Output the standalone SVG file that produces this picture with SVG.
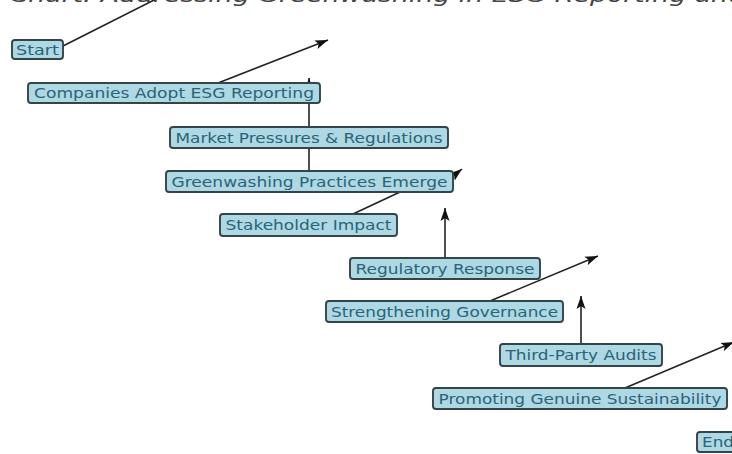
<svg xmlns="http://www.w3.org/2000/svg" width="732" height="454" viewBox="0 0 732 454">
<style>
.box{fill:#aed8e4;stroke:#34444b;stroke-width:1.9}
.lbl{font-family:"DejaVu Sans",sans-serif;font-size:14px;fill:#2a6476;text-anchor:middle}
.edge{stroke:#222;stroke-width:1.6;fill:none}
.title{font-family:"DejaVu Sans",sans-serif;font-size:20px;font-style:italic;fill:#444}
</style>
<defs>
<marker id="ah" markerUnits="userSpaceOnUse" markerWidth="15" markerHeight="10" refX="13" refY="5" orient="auto">
<path d="M0,0.5 L13,5 L0,9.5 L3,5 Z" fill="#111"/>
</marker>
</defs>
<rect width="732" height="454" fill="#fff"/>
<text class="title" x="-60" y="1.5" textLength="805" lengthAdjust="spacingAndGlyphs">Flow Chart: Addressing Greenwashing in ESG Reporting and</text>
<g id="connectors">
<line class="edge" x1="63" y1="46" x2="162" y2="-4"/>
<line class="edge" x1="218" y1="83" x2="328" y2="40" marker-end="url(#ah)"/>
<line class="edge" x1="309" y1="171" x2="309" y2="78" marker-end="url(#ah)"/>
<line class="edge" x1="452" y1="177" x2="462" y2="169" marker-end="url(#ah)"/>
<line class="edge" x1="353" y1="214" x2="400" y2="192"/>
<line class="edge" x1="445" y1="258" x2="445" y2="208" marker-end="url(#ah)"/>
<line class="edge" x1="490" y1="301" x2="598" y2="256" marker-end="url(#ah)"/>
<line class="edge" x1="581" y1="344" x2="581" y2="296" marker-end="url(#ah)"/>
<line class="edge" x1="625" y1="388" x2="734" y2="342" marker-end="url(#ah)"/>
</g>
<g id="start"><rect class="box" x="12" y="40" width="51" height="19" rx="3"/><text class="lbl" x="37.5" y="54.5" textLength="43" lengthAdjust="spacingAndGlyphs">Start</text></g>
<g id="companies"><rect class="box" x="28" y="83" width="292" height="20" rx="3"/><text class="lbl" x="174" y="98" textLength="280" lengthAdjust="spacingAndGlyphs">Companies Adopt ESG Reporting</text></g>
<g id="market"><rect class="box" x="170" y="127" width="278" height="21" rx="3"/><text class="lbl" x="309" y="142.5" textLength="267" lengthAdjust="spacingAndGlyphs">Market Pressures &amp; Regulations</text></g>
<g id="greenwashing"><rect class="box" x="166" y="171" width="287" height="21" rx="3"/><text class="lbl" x="309.5" y="186.5" textLength="276" lengthAdjust="spacingAndGlyphs">Greenwashing Practices Emerge</text></g>
<g id="stakeholder"><rect class="box" x="220" y="214" width="177" height="22" rx="3"/><text class="lbl" x="308.5" y="230" textLength="166" lengthAdjust="spacingAndGlyphs">Stakeholder Impact</text></g>
<g id="regulatory"><rect class="box" x="350" y="258" width="190" height="21" rx="3"/><text class="lbl" x="445" y="273.5" textLength="179" lengthAdjust="spacingAndGlyphs">Regulatory Response</text></g>
<g id="governance"><rect class="box" x="326" y="301" width="237" height="21" rx="3"/><text class="lbl" x="444.5" y="316.5" textLength="227" lengthAdjust="spacingAndGlyphs">Strengthening Governance</text></g>
<g id="audits"><rect class="box" x="500" y="344" width="162" height="22" rx="3"/><text class="lbl" x="581" y="360" textLength="151" lengthAdjust="spacingAndGlyphs">Third-Party Audits</text></g>
<g id="sustainability"><rect class="box" x="433" y="388" width="294" height="21" rx="3"/><text class="lbl" x="580" y="403.5" textLength="283" lengthAdjust="spacingAndGlyphs">Promoting Genuine Sustainability</text></g>
<g id="end"><rect class="box" x="697" y="432" width="44" height="20" rx="3"/><text class="lbl" x="702" y="447" style="text-anchor:start" textLength="32" lengthAdjust="spacingAndGlyphs">End</text></g>
</svg>
